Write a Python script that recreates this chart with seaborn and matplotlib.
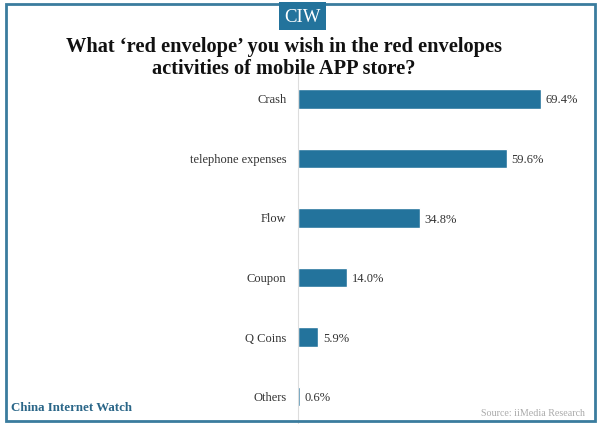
import matplotlib
matplotlib.use('Agg')
import matplotlib.pyplot as plt
from matplotlib.patches import Rectangle
import pandas as pd
import seaborn as sns

categories = ['Crash', 'telephone expenses', 'Flow', 'Coupon', 'Q Coins', 'Others']
values = [69.4, 59.6, 34.8, 14.0, 5.9, 0.6]
labels = ['69.4%', '59.6%', '34.8%', '14.0%', '5.9%', '0.6%']

blue = '#23739c'
serif = ['Liberation Serif', 'DejaVu Serif']

sns.set_theme(style='white')
plt.rcParams['font.family'] = serif

df = pd.DataFrame({'category': categories, 'value': values})

fig = plt.figure(figsize=(6, 4.24), dpi=100)
ax = fig.add_axes([297.5 / 600, 0, 243.5 / 600, (424 - 69) / 424])
sns.barplot(data=df, x='value', y='category', color=blue, width=0.33, saturation=1, ax=ax)
ax.set_xlim(0, 69.4)
ax.set_ylim(5.46, -0.5)
ax.set_xlabel('')
ax.set_ylabel('')
ax.set_xticks([])
sns.despine(ax=ax, bottom=True)
ax.spines['left'].set_color('#dddddd')
ax.spines['left'].set_linewidth(0.8)
ax.tick_params(axis='y', length=0, pad=8, labelsize=9, labelcolor='#333333')

for i, (v, lab) in enumerate(zip(values, labels)):
    ax.annotate(lab, (v, i), xytext=(3.6, -1.2), textcoords='offset points', va='center',
                fontsize=9, color='#333333', annotation_clip=False)

# frame around the whole picture
fig.add_artist(Rectangle((5.5 / 600, 3 / 424), 589.5 / 600, 417.5 / 424, transform=fig.transFigure,
                         fill=False, edgecolor='#3a7c9e', linewidth=2))

# CIW badge on top
fig.add_artist(Rectangle((279 / 600, 1 - 30 / 424), 47 / 600, 28 / 424, transform=fig.transFigure,
                         facecolor=blue, edgecolor='none'))
fig.text(302.5 / 600, 1 - 17.5 / 424, 'CIW', color='white', fontsize=13.5, ha='center', va='center')

fig.text(284 / 600, 1 - 58 / 424, 'What ‘red envelope’ you wish in the red envelopes\nactivities of mobile APP store?',
         fontsize=14.7, fontweight='bold', color='#111111', ha='center', va='center', linespacing=1.08)

fig.text(11 / 600, 1 - 408 / 424, 'China Internet Watch', fontsize=9.3, fontweight='bold', color='#2a6688',
         ha='left', va='center')
fig.text(585 / 600, 1 - 413 / 424, 'Source: iiMedia Research', fontsize=7.2, color='#aaaaaa',
         ha='right', va='center')

fig.savefig('out.png', dpi=100)
